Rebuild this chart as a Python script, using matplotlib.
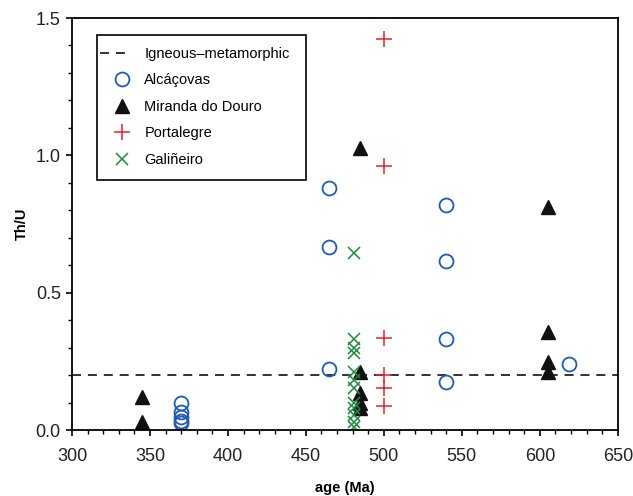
import matplotlib
matplotlib.use("Agg")
import matplotlib.pyplot as plt
from matplotlib.ticker import MultipleLocator, FormatStrFormatter
from matplotlib.patches import Rectangle
from matplotlib.legend_handler import HandlerLine2D

plt.rcParams['font.family'] = ['Liberation Sans', 'DejaVu Sans']

# Alcáçovas
alc_age = [370, 370, 370, 370, 370, 465, 465, 465, 540, 540, 540, 540, 619]
alc_thu = [0.098, 0.064, 0.048, 0.034, 0.027, 0.88, 0.665, 0.222, 0.819, 0.615, 0.331, 0.176, 0.239]

# Miranda do Douro
mir_age = [345, 345, 485, 485, 485, 485, 485, 605, 605, 605, 605]
mir_thu = [0.12, 0.03, 1.027, 0.21, 0.135, 0.10, 0.08, 0.813, 0.358, 0.249, 0.212]

# Portalegre
por_age = [500, 500, 500, 500, 500, 500]
por_thu = [1.423, 0.961, 0.334, 0.20, 0.154, 0.087]

# Galiñeiro
gal_age = [481] * 12
gal_thu = [0.644, 0.331, 0.297, 0.279, 0.212, 0.182, 0.152, 0.097, 0.08, 0.055, 0.03, 0.012]

limite = 0.2


# marcador da legenda um pouco deslocado para a direita (como no original)
class Deslocado(HandlerLine2D):
    def create_artists(self, legend, orig_handle, xdescent, ydescent, width,
                       height, fontsize, trans):
        return super().create_artists(legend, orig_handle, xdescent - 6, ydescent,
                                      width, height, fontsize, trans)


fig = plt.figure(figsize=(6.33, 4.96), dpi=100)
ax = fig.add_axes([0.1137, 0.133, 0.8623, 0.8307])

ax.axhline(limite, color='#222222', ls=(0, (5, 3.8)), lw=1.3, label='Igneous\u2013metamorphic')
p1, = ax.plot(alc_age, alc_thu, 'o', mfc='none', mec='#1f5bb5', ms=10, mew=1.3, label='Alcáçovas')
p2, = ax.plot(mir_age, mir_thu, '^', color='#111111', ms=9.5, label='Miranda do Douro')
p3, = ax.plot(por_age, por_thu, '+', color='#e8202a', ms=11, mew=1.1, label='Portalegre')
p4, = ax.plot(gal_age, gal_thu, 'x', color='#1a8a3c', ms=9, mew=1.1, label='Galiñeiro')

ax.set_xlim(300, 650)
ax.set_ylim(0, 1.5)
ax.xaxis.set_major_locator(MultipleLocator(50))
ax.xaxis.set_minor_locator(MultipleLocator(10))
ax.yaxis.set_major_locator(MultipleLocator(0.5))
ax.yaxis.set_minor_locator(MultipleLocator(0.1))
ax.yaxis.set_major_formatter(FormatStrFormatter('%.1f'))
ax.tick_params(which='both', direction='out', labelsize=13, labelcolor='#222222')
ax.tick_params(which='major', length=4, width=1.2)
ax.tick_params(which='minor', length=3, width=1.0)
ax.tick_params(axis='x', which='major', pad=9)
ax.tick_params(axis='y', which='major', pad=4)
for s in ax.spines.values():
    s.set_linewidth(1.3)

ax.set_xlabel('age (Ma)', fontweight='bold', fontsize=10.5, labelpad=11.5)
ax.set_ylabel('Th/U', fontweight='bold', fontsize=10.5, labelpad=5)

# legenda sem moldura + caixa desenhada à parte
leg = ax.legend(loc='upper left', bbox_to_anchor=(0.043, 0.94), borderaxespad=0,
                fontsize=10.5, frameon=False, handlelength=1.85,
                labelspacing=0.85, borderpad=0.3, handletextpad=1.2,
                handler_map={p1: Deslocado(), p2: Deslocado(), p3: Deslocado(), p4: Deslocado()})
caixa = Rectangle((0.0458, 0.6068), 0.4286 - 0.0458, 0.9587 - 0.6068,
                  transform=ax.transAxes, fill=True, facecolor='white',
                  edgecolor='black', lw=1.2, zorder=4)
ax.add_patch(caixa)
leg.set_zorder(5)

fig.savefig('out.png', dpi=100)
